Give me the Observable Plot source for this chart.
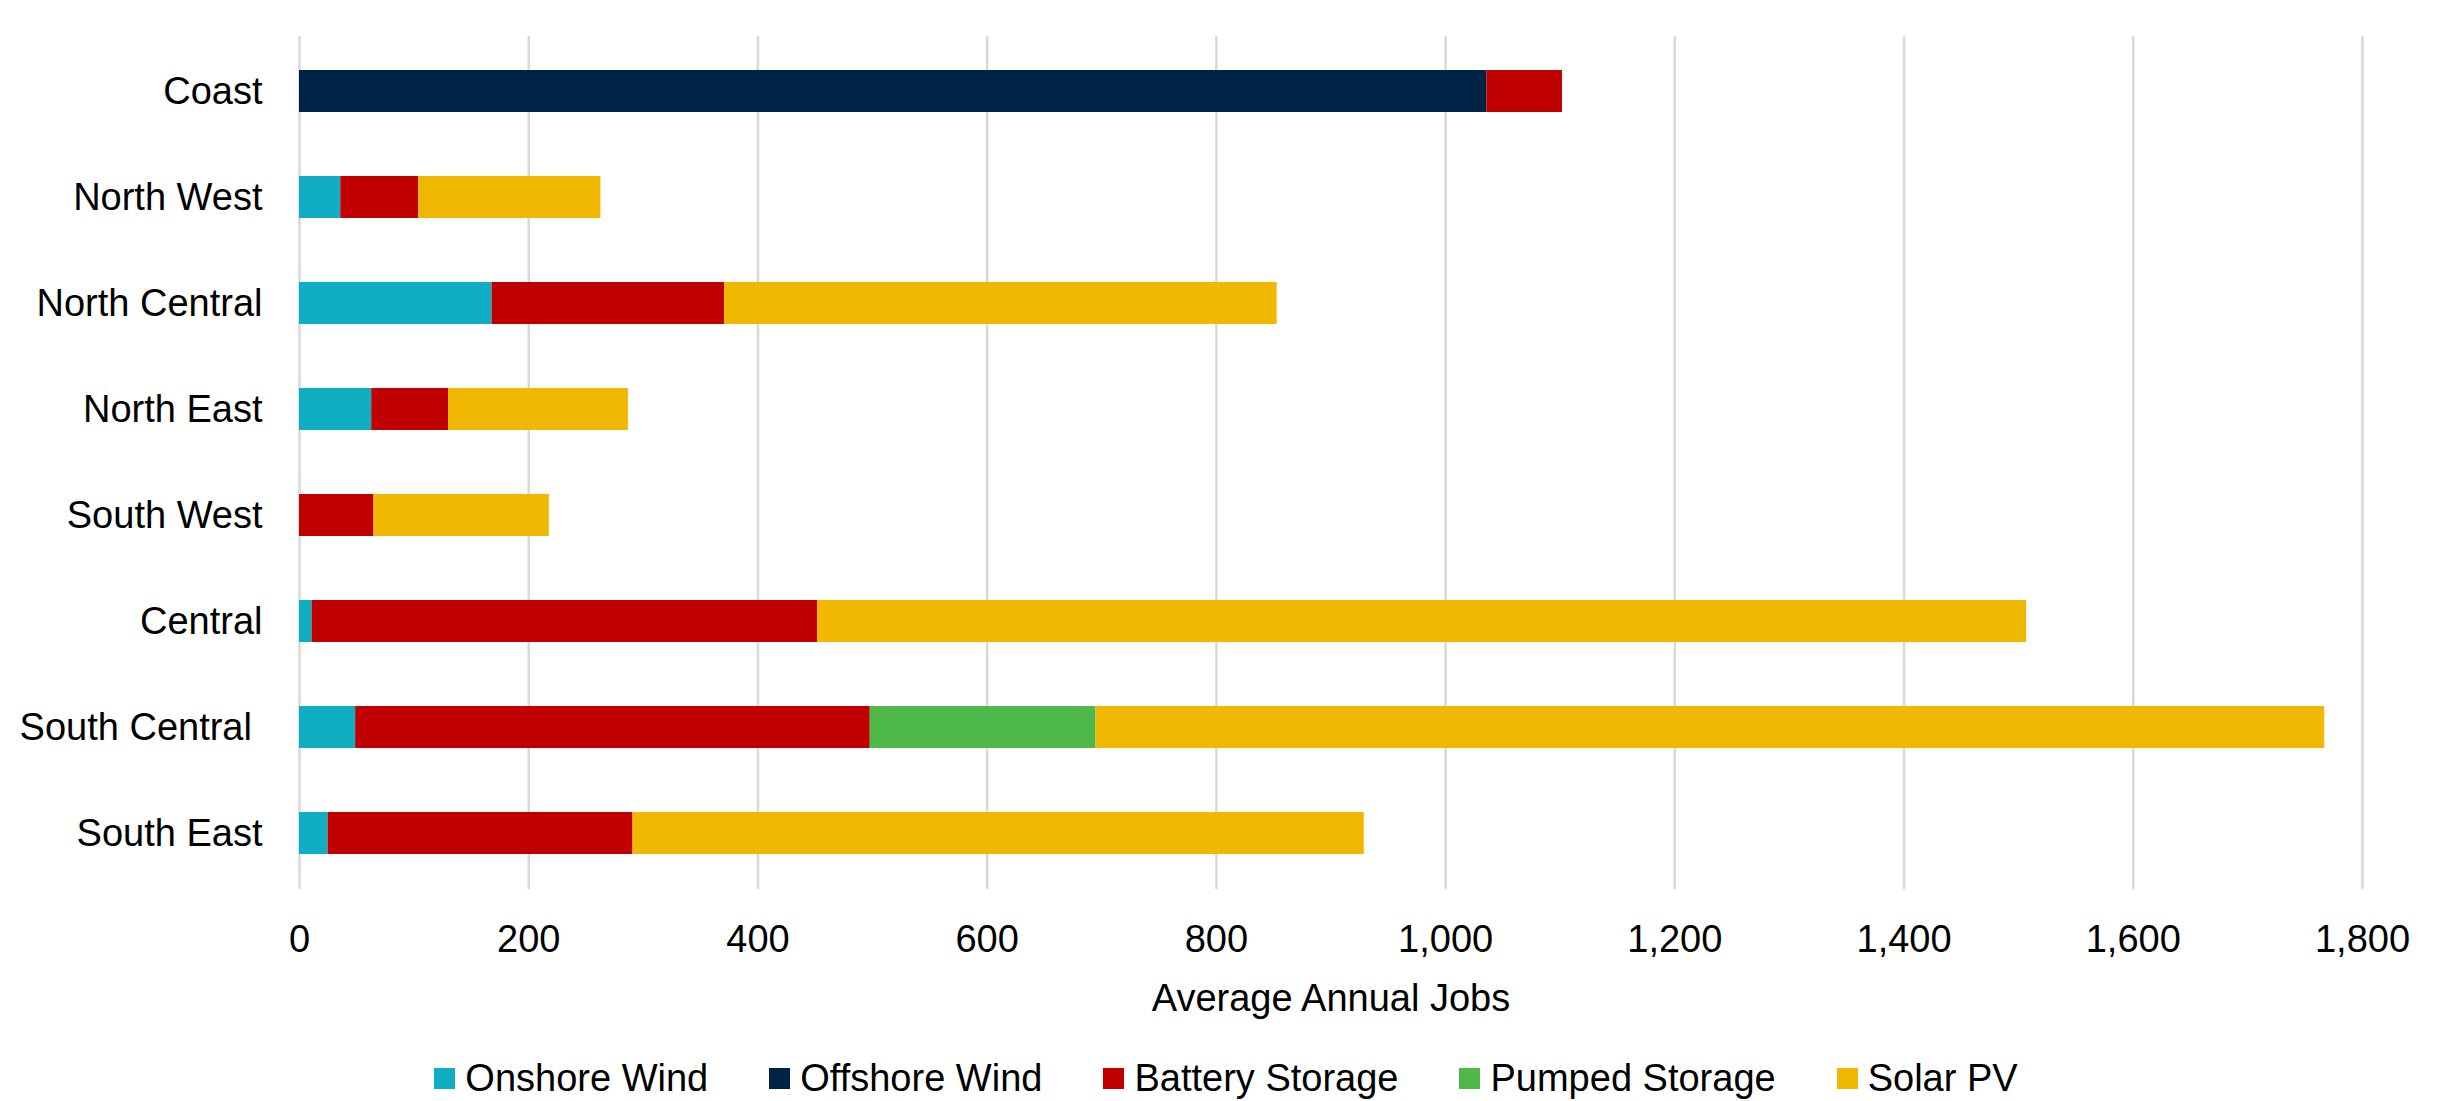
<!DOCTYPE html>
<html>
<head>
<meta charset="utf-8">
<script src="https://cdn.jsdelivr.net/npm/d3@7"></script>
<script src="https://cdn.jsdelivr.net/npm/@observablehq/plot@0.6"></script>
<style>
  html, body { margin: 0; padding: 0; background: #fff; }
  body { width: 2442px; font-family: "Liberation Sans", Arial, sans-serif; color: #000; }
  .legend { display: flex; justify-content: center; align-items: center; gap: 61px;
            font-size: 38px; line-height: 44px; height: 44px; margin-top: 16px; padding-left: 10px; }
  .legend .item { display: flex; align-items: center; white-space: nowrap; }
  .legend .sw { width: 21px; height: 21px; margin-right: 10px; display: inline-block; }
</style>
</head>
<body>
<div id="chart"></div>
<div id="legend" class="legend"></div>
<script>
// Regions, top to bottom (the South Central label carries a trailing space)
const regions = ["Coast", "North West", "North Central", "North East", "South West", "Central", "South Central\u00A0", "South East"];

// Technologies in stacking order
const technologies = ["Onshore Wind", "Offshore Wind", "Battery Storage", "Pumped Storage", "Solar PV"];
const techColors = ["#0FAEC2", "#002244", "#C00000", "#4EB848", "#F0B800"];

// Average annual jobs by technology, one value per region
const onshoreWind   = [0, 36, 168, 63, 0, 11, 49, 25];
const offshoreWind  = [1036, 0, 0, 0, 0, 0, 0, 0];
const batteryStorage = [66, 68, 203, 67, 65, 441, 449, 266];
const pumpedStorage = [0, 0, 0, 0, 0, 0, 197, 0];
const solarPV       = [0, 159, 482, 157, 153, 1055, 1072, 638];

// Axis ticks
const xTicks = [0, 200, 400, 600, 800, 1000, 1200, 1400, 1600, 1800];

const seriesValues = [onshoreWind, offshoreWind, batteryStorage, pumpedStorage, solarPV];
const rows = [];
technologies.forEach((tech, i) => {
  regions.forEach((region, j) => {
    rows.push({region, tech, jobs: seriesValues[i][j]});
  });
});

const chart = Plot.plot({
  width: 2442,
  height: 1040,
  marginLeft: 299,
  marginRight: 80,
  marginTop: 36,
  marginBottom: 151,
  style: {fontFamily: "'Liberation Sans', Arial, sans-serif", fontSize: "38px", color: "#000", background: "#fff", overflow: "visible"},
  x: {domain: [0, 1800]},
  y: {domain: regions, paddingInner: 0.6, paddingOuter: 0.3, align: 0.5},
  color: {domain: technologies, range: techColors},
  marks: [
    Plot.gridX(xTicks, {stroke: "#D9D9D9", strokeWidth: 2.5, strokeOpacity: 1}),
    Plot.barX(rows, Plot.stackX({
      y: "region",
      x: "jobs",
      fill: "tech",
      z: "tech",
      order: technologies
    })),
    Plot.axisX({
      ticks: xTicks,
      tickSize: 0,
      tickPadding: 36,
      tickFormat: d3.format(","),
      label: "Average Annual Jobs",
      labelAnchor: "center",
      labelArrow: "none",
      labelOffset: 121,
      fill: "#000"
    }),
    Plot.axisY({tickSize: 0, tickPadding: 37, label: null, fill: "#000"})
  ]
});
document.getElementById("chart").appendChild(chart);

// Legend below the chart
const legend = document.getElementById("legend");
technologies.forEach((tech, i) => {
  const item = document.createElement("div");
  item.className = "item";
  const sw = document.createElement("span");
  sw.className = "sw";
  sw.style.background = techColors[i];
  const label = document.createElement("span");
  label.textContent = tech;
  item.appendChild(sw);
  item.appendChild(label);
  legend.appendChild(item);
});
</script>
</body>
</html>
